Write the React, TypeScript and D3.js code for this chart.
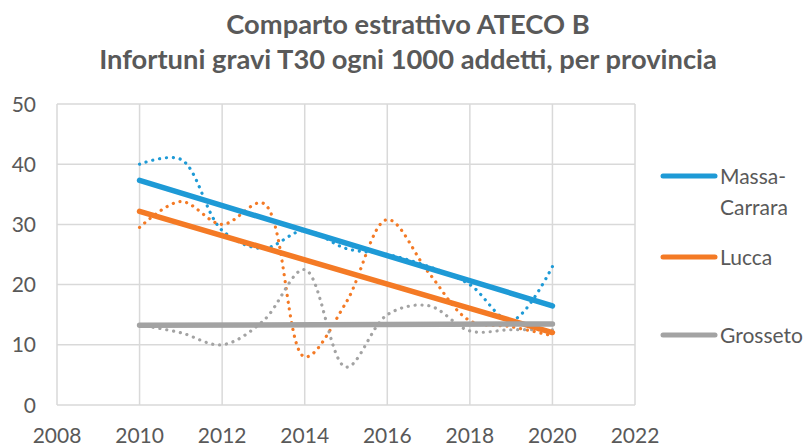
import React, { useEffect, useRef } from 'react';
import * as d3 from 'd3';

const years = [2010, 2011, 2012, 2013, 2014, 2015, 2016, 2017, 2018, 2019, 2020];
const massaCarrara = [40, 40.8, 29, 26, 29, 26, 25, 23, 20, 14, 23];
const lucca = [29.5, 33.8, 30, 33.5, 8, 17, 30.8, 22, 14, 13, 11.5];
const grosseto = [13.3, 12, 10, 14, 22.5, 6.3, 15, 16.5, 12.3, 12.5, 12.5];
const seriesNames = ['Massa-Carrara', 'Lucca', 'Grosseto'];
const seriesColors = ['#1E9AD6', '#F47A25', '#A3A3A3'];
const xTicks = [2008, 2010, 2012, 2014, 2016, 2018, 2020, 2022];
const yTicks = [0, 10, 20, 30, 40, 50];
const titleLines = ['Comparto estrattivo ATECO B', 'Infortuni gravi T30 ogni 1000 addetti, per provincia'];

const W = 812;
const H = 446;
const FONT = 'Lato, sans-serif';
const TEXT = '#595959';

// least squares trend, like the Excel linear trendline
function trend(xs: number[], ys: number[]) {
  const mx = d3.mean(xs)!;
  const my = d3.mean(ys)!;
  let sxy = 0, sxx = 0;
  xs.forEach((x, i) => { sxy += (x - mx) * (ys[i] - my); sxx += (x - mx) ** 2; });
  const b = sxy / sxx;
  return (x: number) => my + b * (x - mx);
}

export default function App() {
  const ref = useRef<SVGSVGElement>(null);

  useEffect(() => {
    const svg = d3.select(ref.current);
    svg.selectAll('*').remove();

    const x = d3.scaleLinear().domain([2008, 2022]).range([57, 635]);
    const y = d3.scaleLinear().domain([0, 50]).range([405, 104]);

    // title
    svg.append('g').selectAll('text').data(titleLines).enter().append('text')
      .attr('x', 408).attr('y', (d, i) => 34 + i * 35)
      .attr('text-anchor', 'middle')
      .attr('font-family', FONT).attr('font-weight', 700).attr('font-size', 27.3)
      .attr('fill', TEXT).text(d => d);

    // grid
    svg.append('g').selectAll('line.h').data(yTicks).enter().append('line')
      .attr('x1', x(2008)).attr('x2', x(2022))
      .attr('y1', d => y(d)).attr('y2', d => y(d))
      .attr('stroke', '#D9D9D9').attr('stroke-width', 1.5);
    svg.append('g').selectAll('line.v').data(xTicks).enter().append('line')
      .attr('y1', y(0)).attr('y2', y(50))
      .attr('x1', d => x(d)).attr('x2', d => x(d))
      .attr('stroke', '#D9D9D9').attr('stroke-width', 1.5);

    // tick labels
    svg.append('g').selectAll('text').data(yTicks).enter().append('text')
      .attr('x', 36).attr('y', d => y(d) + 7.5)
      .attr('text-anchor', 'end')
      .attr('font-family', FONT).attr('font-size', 21).attr('fill', TEXT)
      .text(d => d);
    svg.append('g').selectAll('text').data(xTicks).enter().append('text')
      .attr('x', d => x(d)).attr('y', 443)
      .attr('text-anchor', 'middle')
      .attr('font-family', FONT).attr('font-size', 21).attr('fill', TEXT)
      .text(d => d);

    const allSeries = [massaCarrara, lucca, grosseto];

    // dotted smoothed lines
    const smooth = d3.line<number>()
      .x((d, i) => x(years[i]))
      .y(d => y(d))
      .curve(d3.curveCatmullRom.alpha(0.5));
    allSeries.forEach((vals, k) => {
      svg.append('path')
        .attr('d', smooth(vals))
        .attr('fill', 'none')
        .attr('stroke', seriesColors[k])
        .attr('stroke-width', 3.2)
        .attr('stroke-linecap', 'round')
        .attr('stroke-dasharray', '0.1 6.8');
    });

    // trend lines
    allSeries.forEach((vals, k) => {
      const f = trend(years, vals);
      const x0 = years[0], x1 = years[years.length - 1];
      svg.append('line')
        .attr('x1', x(x0)).attr('y1', y(f(x0)))
        .attr('x2', x(x1)).attr('y2', y(f(x1)))
        .attr('stroke', seriesColors[k])
        .attr('stroke-width', 5.5)
        .attr('stroke-linecap', 'round');
    });

    // legend
    const legendY = [176, 257, 335];
    const lg = svg.append('g');
    seriesNames.forEach((name, k) => {
      lg.append('line')
        .attr('x1', 663).attr('x2', 715)
        .attr('y1', legendY[k]).attr('y2', legendY[k])
        .attr('stroke', seriesColors[k]).attr('stroke-width', 5)
        .attr('stroke-linecap', 'round');
      const parts = name === 'Massa-Carrara' ? ['Massa-', 'Carrara'] : [name];
      parts.forEach((p, j) => {
        lg.append('text')
          .attr('x', 720).attr('y', legendY[k] + 8 + j * 31)
          .attr('font-family', FONT).attr('font-size', 21).attr('fill', TEXT)
          .text(p);
      });
    });
  }, []);

  return (
    <svg ref={ref} width={W} height={H}
      style={{ position: 'absolute', left: 0, top: 0, background: '#fff' }} />
  );
}
